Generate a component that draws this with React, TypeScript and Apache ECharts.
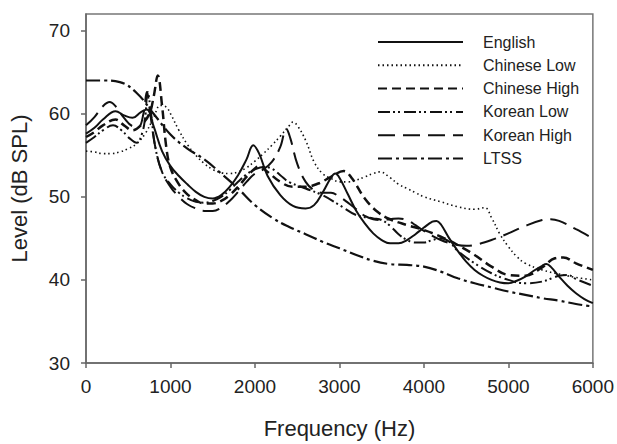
import React, { useEffect, useRef } from "react";
import * as echarts from "echarts";

const seriesNames = ["English", "Chinese Low", "Chinese High", "Korean Low", "Korean High", "LTSS"];

const english: number[][] = [
  [0, 57.6], [100, 58.3], [200, 59.3], [350, 60.3], [450, 59.8], [550, 59.5], [650, 60.2], [720, 60.5],
  [800, 58.5], [900, 55.5], [1000, 53.7], [1100, 52.5], [1200, 51.5], [1300, 50.6], [1400, 50.0], [1500, 49.8],
  [1600, 50.2], [1700, 51.2], [1800, 52.6], [1900, 54.5], [1980, 56.2], [2050, 55.2], [2150, 52.5], [2300, 50.2],
  [2450, 48.9], [2600, 48.6], [2700, 49.0], [2800, 50.5], [2900, 52.3], [2950, 52.8], [3000, 52.3], [3100, 50.3],
  [3200, 48.3], [3300, 46.8], [3400, 45.6], [3500, 44.8], [3600, 44.4], [3700, 44.4], [3800, 44.8], [3900, 45.5],
  [4000, 46.3], [4100, 47.0], [4150, 47.1], [4200, 46.7], [4300, 45.0], [4400, 43.5], [4500, 42.2], [4600, 41.2],
  [4700, 40.5], [4800, 40.0], [4900, 39.7], [5000, 39.6], [5100, 39.9], [5200, 40.4], [5300, 41.1], [5400, 41.7],
  [5450, 41.9], [5500, 41.6], [5600, 40.4], [5700, 39.3], [5800, 38.4], [5900, 37.7], [6000, 37.2],
];

const chineseLow: number[][] = [
  [0, 55.5], [100, 55.4], [200, 55.2], [300, 55.2], [400, 55.4], [500, 55.8], [600, 56.4], [700, 57.6],
  [800, 59.5], [880, 61.0], [950, 60.8], [1000, 60.0], [1100, 58.0], [1200, 56.3], [1300, 55.0], [1400, 54.0],
  [1500, 53.3], [1600, 52.9], [1700, 52.8], [1800, 53.0], [1900, 53.5], [2000, 54.3], [2100, 55.2], [2200, 56.2],
  [2300, 57.3], [2400, 58.5], [2450, 59.0], [2500, 58.6], [2600, 56.8], [2700, 54.2], [2800, 52.8], [2900, 52.2],
  [3000, 51.8], [3100, 51.8], [3200, 52.0], [3300, 52.4], [3400, 52.8], [3480, 53.0], [3600, 52.3], [3700, 51.5],
  [3800, 51.0], [3900, 50.5], [4000, 50.0], [4200, 49.4], [4400, 48.8], [4600, 48.5], [4720, 48.7], [4800, 47.5],
  [4900, 45.5], [5000, 44.0], [5100, 42.8], [5200, 42.0], [5400, 41.2], [5600, 40.7], [5800, 40.3], [6000, 40.0],
];

const chineseHigh: number[][] = [
  [0, 57.2], [100, 57.8], [200, 58.6], [350, 59.3], [450, 58.6], [550, 58.0], [650, 58.6], [750, 60.0],
  [800, 62.0], [850, 64.6], [900, 61.0], [950, 56.0], [1000, 53.5], [1100, 51.5], [1200, 50.3], [1300, 49.6],
  [1400, 49.2], [1500, 49.2], [1600, 49.5], [1700, 50.2], [1800, 51.2], [1900, 52.4], [2000, 53.4], [2050, 53.7],
  [2150, 53.0], [2300, 51.8], [2450, 51.2], [2600, 51.2], [2750, 51.6], [2900, 52.4], [3050, 53.1], [3150, 52.2],
  [3300, 49.8], [3450, 48.2], [3600, 47.3], [3800, 46.6], [4000, 46.0], [4200, 45.2], [4400, 44.2], [4600, 43.0],
  [4800, 41.6], [5000, 40.6], [5200, 40.5], [5400, 41.5], [5550, 42.6], [5650, 42.7], [5800, 42.0], [6000, 41.2],
];

const koreanLow: number[][] = [
  [0, 56.5], [100, 57.2], [200, 58.0], [320, 58.6], [420, 58.0], [520, 57.0], [600, 56.5], [660, 57.5],
  [700, 59.5], [730, 62.6], [770, 60.0], [820, 56.0], [900, 53.0], [1000, 51.5], [1100, 50.5], [1200, 49.8],
  [1300, 49.4], [1400, 49.3], [1500, 49.5], [1600, 50.0], [1700, 50.8], [1800, 51.8], [1900, 52.7], [2000, 53.3],
  [2100, 53.6], [2200, 53.4], [2300, 52.6], [2400, 51.8], [2600, 51.0], [2800, 50.2], [3000, 49.0], [3200, 47.8],
  [3400, 47.4], [3500, 47.2], [3600, 46.5], [3700, 45.5], [3800, 44.8], [3900, 44.5], [4000, 44.5], [4100, 44.8],
  [4200, 45.0], [4300, 44.6], [4400, 43.5], [4600, 42.0], [4800, 40.8], [5000, 40.0], [5200, 39.6], [5400, 39.8],
  [5600, 40.5], [5700, 40.6], [5800, 40.1], [6000, 39.3],
];

const koreanHigh: number[][] = [
  [0, 58.6], [100, 59.6], [200, 60.9], [280, 61.4], [350, 60.9], [450, 59.5], [550, 58.5], [620, 58.4],
  [680, 60.0], [720, 62.6], [760, 60.0], [820, 56.0], [900, 53.0], [1000, 51.2], [1100, 50.0], [1200, 49.1],
  [1300, 48.6], [1400, 48.3], [1500, 48.3], [1600, 48.7], [1700, 49.5], [1800, 50.6], [1900, 51.8], [2000, 52.8],
  [2100, 53.3], [2200, 54.2], [2300, 56.0], [2370, 58.2], [2420, 57.0], [2500, 54.0], [2600, 51.8], [2700, 50.8],
  [2800, 50.5], [2900, 50.5], [3000, 50.0], [3100, 49.3], [3200, 48.5], [3300, 47.7], [3400, 47.3], [3500, 47.2],
  [3600, 47.3], [3700, 47.4], [3800, 47.2], [3900, 46.6], [4000, 45.9], [4200, 44.8], [4400, 44.2], [4500, 44.1],
  [4600, 44.2], [4800, 44.8], [5000, 45.6], [5200, 46.5], [5400, 47.2], [5500, 47.3], [5600, 47.1], [5800, 46.1],
  [6000, 45.0],
];

const ltss: number[][] = [
  [0, 64.0], [200, 64.0], [400, 63.8], [600, 62.5], [800, 60.0], [1000, 57.5], [1200, 55.8], [1400, 54.5],
  [1600, 52.8], [1800, 51.0], [2000, 49.0], [2200, 47.5], [2400, 46.4], [2600, 45.5], [2800, 44.6], [3000, 43.8],
  [3200, 43.0], [3400, 42.3], [3600, 41.9], [3800, 41.8], [4000, 41.6], [4200, 41.0], [4400, 40.2], [4600, 39.6],
  [4800, 39.1], [5000, 38.6], [5200, 38.2], [5400, 37.8], [5600, 37.5], [5800, 37.1], [6000, 36.8],
];

const xTicks = [0, 1000, 2000, 3000, 4000, 5000, 6000];
const yTicks = [30, 40, 50, 60, 70];

const seriesData = [english, chineseLow, chineseHigh, koreanLow, koreanHigh, ltss];
const lineStyles: any[] = [
  { type: "solid", width: 2 },
  { type: [1.5, 3], width: 1.6 },
  { type: [9, 5], width: 2.5 },
  { type: [12, 3, 2, 3, 2, 4], width: 2 },
  { type: [17, 8], width: 2 },
  { type: [14, 4, 3, 4], width: 2.2 },
];

const FONT = "'Liberation Sans', Arial, sans-serif";

export default function App() {
  const ref = useRef<HTMLDivElement>(null);
  useEffect(() => {
    if (!ref.current) return;
    const chart = echarts.init(ref.current, undefined, { renderer: "svg" });
    chart.setOption({
      animation: false,
      backgroundColor: "#fff",
      textStyle: { fontFamily: FONT },
      grid: {
        left: 83,
        right: 21,
        top: 14,
        bottom: 71,
        show: true,
        borderColor: "#777",
        borderWidth: 1.5,
      },
      legend: {
        orient: "vertical",
        left: 377,
        top: 34,
        padding: 0,
        itemWidth: 85,
        itemHeight: 14,
        itemGap: 7.3,
        data: seriesNames,
        itemStyle: { color: "rgba(0,0,0,0)", borderWidth: 0, opacity: 0 },
        textStyle: { fontSize: 16, color: "#222", fontFamily: FONT, padding: [0, 0, 0, 15] },
      },
      xAxis: {
        type: "value",
        min: 0,
        max: 6000,
        interval: 1000,
        name: "Frequency (Hz)",
        nameLocation: "middle",
        nameGap: 54,
        nameTextStyle: { fontSize: 22, color: "#222", fontFamily: FONT },
        axisLine: { lineStyle: { color: "#666", width: 1.5 } },
        axisTick: { inside: false, length: 5, lineStyle: { color: "#666", width: 1.5 }, customValues: xTicks },
        axisLabel: {
          fontSize: 19, color: "#222", margin: 14, fontFamily: FONT, customValues: xTicks,
          formatter: (v: number) => String(v),
        },
        splitLine: { show: false },
      },
      yAxis: {
        type: "value",
        min: 30,
        max: 72,
        interval: 10,
        name: "Level (dB SPL)",
        nameLocation: "middle",
        nameGap: 56,
        nameTextStyle: { fontSize: 22, color: "#222", fontFamily: FONT },
        axisLine: { show: true, lineStyle: { color: "#666", width: 1.5 } },
        axisTick: { show: true, inside: false, length: 5, lineStyle: { color: "#666", width: 1.5 }, customValues: yTicks },
        axisLabel: {
          fontSize: 19, color: "#222", margin: 16, fontFamily: FONT, customValues: yTicks,
          formatter: (v: number) => String(v),
        },
        splitLine: { show: false },
      },
      series: seriesNames.map((name, i) => ({
        name,
        type: "line",
        data: seriesData[i],
        showSymbol: false,
        symbol: "none",
        smooth: 0.4,
        lineStyle: { color: "#111", ...lineStyles[i] },
        itemStyle: { color: "#111" },
        z: 10 - i,
      })),
    });
    return () => chart.dispose();
  }, []);
  return <div ref={ref} style={{ width: 617, height: 444, position: "absolute", left: 0, top: 0 }} />;
}
